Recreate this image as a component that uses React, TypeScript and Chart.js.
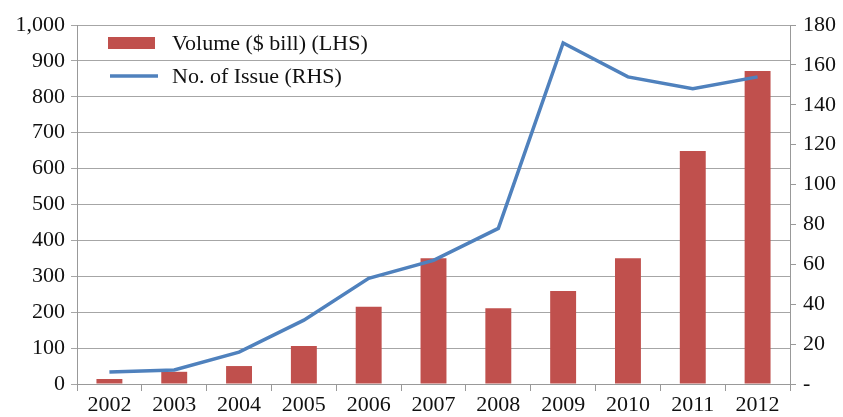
import React, { useEffect, useRef } from "react";
import { Chart, registerables } from "chart.js";

Chart.register(...registerables);

const years = ["2002", "2003", "2004", "2005", "2006", "2007", "2008", "2009", "2010", "2011", "2012"];
const volume = [14, 34, 50, 106, 215, 350, 211, 259, 350, 649, 872];
const issues = [6, 7, 16, 32, 53, 62, 78, 171, 154, 148, 154];
const volumeLabel = "Volume ($ bill) (LHS)";
const issuesLabel = "No. of Issue (RHS)";

const FONT = "'Liberation Serif', 'Times New Roman', serif";
const TEXT = "#111";

const legendPlugin = {
  id: "insideLegend",
  afterDraw(chart: any) {
    const ctx = chart.ctx;
    const ds = chart.data.datasets;
    ctx.save();
    ctx.font = `22px ${FONT}`;
    ctx.textBaseline = "middle";
    const x0 = 108;
    const ys = [43, 76];
    ctx.fillStyle = ds[0].backgroundColor;
    ctx.fillRect(x0, ys[0] - 6, 47, 12);
    ctx.fillStyle = TEXT;
    ctx.fillText(ds[0].label, 172, ys[0] + 1);
    ctx.strokeStyle = ds[1].borderColor;
    ctx.lineWidth = 3.5;
    ctx.beginPath();
    ctx.moveTo(110, ys[1]);
    ctx.lineTo(158, ys[1]);
    ctx.stroke();
    ctx.fillText(ds[1].label, 172, ys[1] + 1);
    ctx.restore();
  },
};

export default function App() {
  const ref = useRef<HTMLCanvasElement | null>(null);
  useEffect(() => {
    if (!ref.current) return;
    const chart = new Chart(ref.current, {
      type: "bar",
      data: {
        labels: years,
        datasets: [
          {
            type: "bar",
            label: volumeLabel,
            data: volume,
            backgroundColor: "#C0504D",
            yAxisID: "y",
            categoryPercentage: 0.4,
            barPercentage: 1,
            order: 2,
          },
          {
            type: "line",
            label: issuesLabel,
            data: issues,
            borderColor: "#4F81BD",
            backgroundColor: "#4F81BD",
            borderWidth: 3.5,
            pointRadius: 0,
            tension: 0,
            yAxisID: "y1",
            order: 1,
          } as any,
        ],
      },
      options: {
        responsive: false,
        animation: false,
        layout: { padding: { top: 25, left: 0, right: 0, bottom: 0 } },
        plugins: { legend: { display: false }, tooltip: { enabled: false } },
        scales: {
          x: {
            offset: true,
            grid: { display: true, drawOnChartArea: false, drawTicks: true, tickLength: 7, color: "#999", offset: true },
            border: { display: true, color: "#999" },
            ticks: { color: TEXT, font: { family: FONT, size: 22 }, padding: 1, maxRotation: 0 },
            afterFit(scale: any) { scale.height = 33; },
          },
          y: {
            position: "left",
            min: 0,
            max: 1000,
            ticks: {
              stepSize: 100,
              color: TEXT,
              font: { family: FONT, size: 22 },
              padding: 6,
              callback: (v: any) => Number(v).toLocaleString("en-US"),
            },
            grid: { color: "#a6a6a6", lineWidth: 1, drawTicks: true, tickLength: 6 },
            border: { display: true, color: "#999" },
            afterFit(scale: any) { scale.width = 77; },
          },
          y1: {
            position: "right",
            min: 0,
            max: 180,
            ticks: {
              stepSize: 20,
              color: TEXT,
              font: { family: FONT, size: 22 },
              padding: 7,
              callback: (v: any) => (Number(v) === 0 ? "-" : String(v)),
            },
            grid: { drawOnChartArea: false, drawTicks: true, tickLength: 6, color: "#999" },
            border: { display: true, color: "#999" },
            afterFit(scale: any) { scale.width = 53; },
          },
        },
      },
      plugins: [legendPlugin],
    });
    return () => chart.destroy();
  }, []);
  return (
    <div style={{ position: "fixed", left: 0, top: 0, width: 843, height: 417, background: "#fff" }}>
      <canvas ref={ref} width={843} height={417} style={{ display: "block" }} />
    </div>
  );
}
